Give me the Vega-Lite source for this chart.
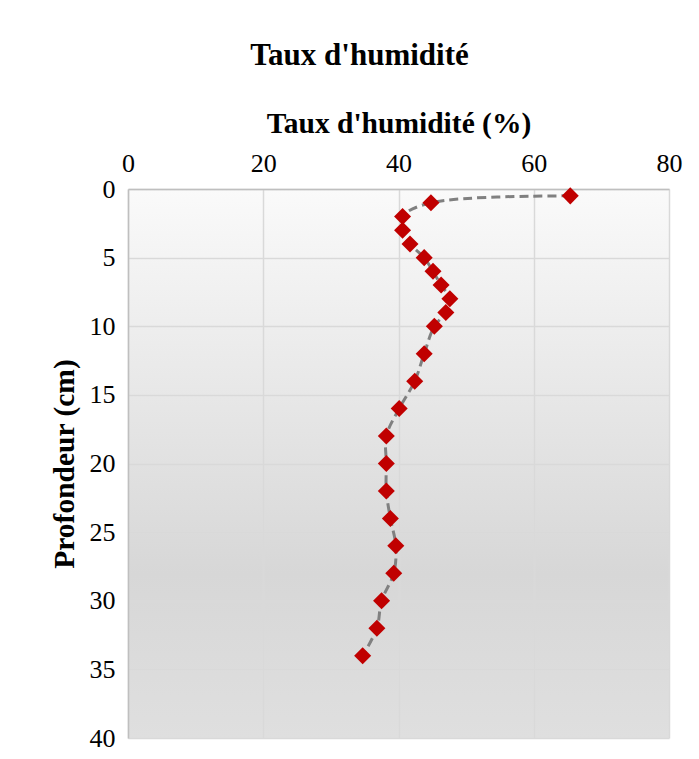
{
  "$schema": "https://vega.github.io/schema/vega-lite/v6.json",
  "width": 541,
  "height": 549,
  "autosize": {"type": "none"},
  "padding": {"left": 128, "top": 189, "right": 30, "bottom": 21},
  "background": "white",
  "config": {
    "view": {
      "stroke": null,
      "fill": {"gradient": "linear", "x1": 0, "y1": 0, "x2": 0, "y2": 1,
        "stops": [{"offset": 0, "color": "#fafafa"}, {"offset": 0.7, "color": "#d7d7d7"}, {"offset": 1, "color": "#dfdfdf"}]}
    },
    "font": "Liberation Serif"
  },
  "title": {
    "text": "Taux d'humidité",
    "font": "Liberation Serif",
    "fontSize": 31,
    "fontWeight": "bold",
    "color": "black",
    "anchor": "middle",
    "offset": 36,
    "dx": -39
  },
  "data": {
    "values": [
      {"depth": 0.5, "humidity": 65.4},
      {"depth": 1, "humidity": 44.8},
      {"depth": 2, "humidity": 40.6},
      {"depth": 3, "humidity": 40.6},
      {"depth": 4, "humidity": 41.7},
      {"depth": 5, "humidity": 43.8},
      {"depth": 6, "humidity": 45.1},
      {"depth": 7, "humidity": 46.3},
      {"depth": 8, "humidity": 47.6},
      {"depth": 9, "humidity": 47.0},
      {"depth": 10, "humidity": 45.3},
      {"depth": 12, "humidity": 43.8},
      {"depth": 14, "humidity": 42.4},
      {"depth": 16, "humidity": 40.1},
      {"depth": 18, "humidity": 38.2},
      {"depth": 20, "humidity": 38.2},
      {"depth": 22, "humidity": 38.2},
      {"depth": 24, "humidity": 38.8},
      {"depth": 26, "humidity": 39.6},
      {"depth": 28, "humidity": 39.3},
      {"depth": 30, "humidity": 37.5},
      {"depth": 32, "humidity": 36.8},
      {"depth": 34, "humidity": 34.7}
    ]
  },
  "encoding": {
    "x": {
      "field": "humidity", "type": "quantitative",
      "scale": {"domain": [0, 80], "nice": false, "zero": false},
      "axis": {
        "orient": "top", "values": [0, 20, 40, 60, 80],
        "title": "Taux d'humidité (%)",
        "titleFont": "Liberation Serif", "titleFontSize": 29.5, "titleFontWeight": "bold", "titleColor": "black",
        "titlePadding": 12,
        "labelFont": "Liberation Serif", "labelFontSize": 26, "labelColor": "black", "labelPadding": 13,
        "labelFlush": false, "labelOverlap": false,
        "ticks": false, "tickSize": 0,
        "domainColor": "#bfbfbf", "domainWidth": 1.5,
        "grid": true, "gridColor": "#d9d9d9", "gridWidth": 1.5
      }
    },
    "y": {
      "field": "depth", "type": "quantitative",
      "scale": {"domain": [0, 40], "reverse": true, "nice": false, "zero": false},
      "axis": {
        "values": [0, 5, 10, 15, 20, 25, 30, 35, 40],
        "title": "Profondeur (cm)",
        "titleFont": "Liberation Serif", "titleFontSize": 29.5, "titleFontWeight": "bold", "titleColor": "black",
        "titlePadding": 10,
        "labelFont": "Liberation Serif", "labelFontSize": 26, "labelColor": "black", "labelPadding": 13,
        "labelFlush": false, "labelOverlap": false,
        "ticks": false, "tickSize": 0,
        "domainColor": "#bfbfbf", "domainWidth": 1.5,
        "grid": true, "gridColor": "#d9d9d9", "gridWidth": 1.5
      }
    }
  },
  "layer": [
    {
      "mark": {"type": "line", "interpolate": "catmull-rom", "color": "#808080", "strokeWidth": 3, "strokeDash": [9, 5]},
      "encoding": {"order": {"field": "depth", "type": "quantitative"}}
    },
    {
      "mark": {"type": "point", "shape": "diamond", "filled": true, "color": "#C00000", "opacity": 1, "size": 290}
    }
  ]
}
